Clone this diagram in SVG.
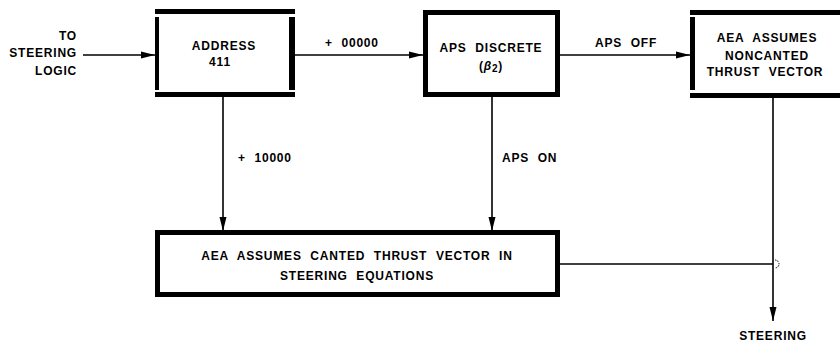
<svg xmlns="http://www.w3.org/2000/svg" width="840" height="342" viewBox="0 0 840 342">
<defs>
<marker id="ah" markerUnits="userSpaceOnUse" markerWidth="16" markerHeight="10" refX="14" refY="5" orient="auto">
<path d="M0,1.5 L14,5 L0,8.5 Z" fill="#000"/>
</marker>
<style>
text{font-family:"Liberation Sans",Arial,sans-serif;font-weight:bold;font-size:12px;fill:#000;letter-spacing:0.8px;word-spacing:4.5px}
.c{text-anchor:middle}
.r{text-anchor:end}
.bar{fill:#000}
.box{fill:#fff;stroke:#000;stroke-width:5}
.ln{stroke:#000;stroke-width:1.6;fill:none}
</style>
</defs>
<rect width="840" height="342" fill="#fff"/>
<g id="connectors">
<line class="ln" x1="83" y1="55" x2="155" y2="55" marker-end="url(#ah)"/>
<line class="ln" x1="295" y1="55" x2="423" y2="55" marker-end="url(#ah)"/>
<line class="ln" x1="560" y1="55" x2="690" y2="55" marker-end="url(#ah)"/>
<line class="ln" x1="223" y1="97" x2="223" y2="231" marker-end="url(#ah)"/>
<line class="ln" x1="492" y1="97" x2="492" y2="231" marker-end="url(#ah)"/>
<line class="ln" x1="560" y1="264" x2="773" y2="264"/>
<line class="ln" x1="773" y1="98" x2="773" y2="321" stroke-width="2" marker-end="url(#ah)"/>
<path d="M775,260 A4,4 0 0 1 775,268" fill="none" stroke="#000" stroke-width="1" stroke-dasharray="1.5,1"/>
<text x="325" y="47">+ 00000</text>
<text x="595" y="47">APS OFF</text>
<text x="238" y="162">+ 10000</text>
<text x="502" y="162">APS ON</text>
<text class="c" x="773" y="340">STEERING</text>
</g>
<g id="input">
<text class="r" x="77" y="40">TO</text>
<text class="r" x="77" y="57">STEERING</text>
<text class="r" x="77" y="75">LOGIC</text>
</g>
<g id="address">
<rect class="bar" x="155" y="9" width="140" height="5"/>
<rect class="bar" x="155" y="92" width="140" height="5"/>
<rect class="bar" x="155" y="17" width="4" height="73"/>
<rect class="bar" x="289" y="17" width="6" height="73"/>
<text class="c" x="224" y="50">ADDRESS</text>
<text class="c" x="220" y="66">411</text>
</g>
<g id="aps">
<rect class="box" x="425.5" y="12.5" width="132" height="82"/>
<text class="c" x="491" y="52">APS DISCRETE</text>
<text class="c" x="491" y="70">(<tspan font-style="italic">β</tspan><tspan font-size="10" dy="2">2</tspan><tspan dy="-2">)</tspan></text>
</g>
<g id="noncanted">
<rect class="bar" x="690" y="10" width="150" height="5"/>
<rect class="bar" x="690" y="93" width="150" height="5"/>
<rect class="bar" x="690" y="17" width="5" height="73"/>
<text class="c" x="767" y="42">AEA ASSUMES</text>
<text class="c" x="767" y="60">NONCANTED</text>
<text class="c" x="765" y="76">THRUST VECTOR</text>
</g>
<g id="canted">
<rect class="box" x="157.5" y="232.5" width="400" height="62"/>
<text class="c" x="357" y="260">AEA ASSUMES CANTED THRUST VECTOR IN</text>
<text class="c" x="357" y="280">STEERING EQUATIONS</text>
</g>
</svg>
